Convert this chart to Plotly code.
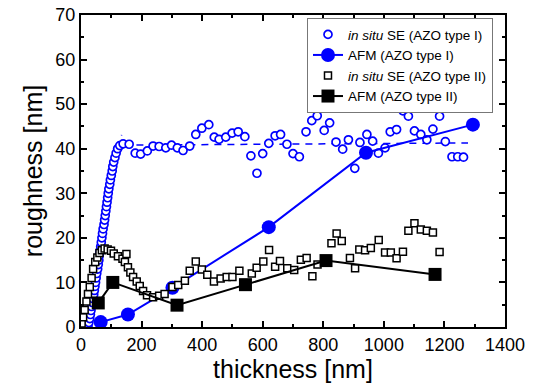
import plotly.graph_objects as go

# ---------------- data ----------------
# in situ SE (AZO type I)
se1_x = [23, 26, 29, 31, 33, 35, 37, 39, 42, 44, 46, 48, 50, 52, 55, 57, 59, 60, 63, 65,
         67, 69, 71, 73, 76, 78, 80, 82, 84, 86, 88, 90, 92, 95, 97, 100, 103, 105, 108, 112,
         116, 121, 128, 139,
         159, 179, 197, 219, 238, 258, 280, 299, 318, 337, 359, 379, 399, 422, 440, 456, 478,
         499, 519, 541, 561, 581, 600, 620, 641, 659, 680, 700, 721, 743, 762, 780, 803, 821,
         842, 864, 883, 904, 921, 944, 963, 982, 1004, 1021, 1042, 1063, 1081, 1101, 1122,
         1142, 1162, 1184, 1203, 1225, 1244, 1263]
se1_y = [0.2, 1.0, 1.9, 2.8, 3.7, 4.6, 5.5, 6.4, 7.3, 8.2, 9.1, 10.0, 11.0, 12.0, 13.0, 14.0,
         15.0, 16.0, 17.0, 18.0, 19.0, 20.0, 21.0, 22.0, 23.0, 24.0, 25.0, 26.0, 27.0, 28.0,
         29.0, 30.0, 31.0, 32.0, 33.0, 34.0, 35.0, 36.0, 37.0, 38.0, 39.0, 40.0, 40.7, 41.1,
         41.0, 39.0, 38.8, 39.5, 40.6, 40.5, 40.2, 40.8, 40.2, 39.6, 40.6, 43.2, 44.6, 45.4,
         42.6, 42.1, 42.6, 43.5, 43.8, 42.7, 38.4, 34.5, 38.9, 41.2, 42.9, 43.2, 41.0, 38.9,
         38.2, 43.8, 46.3, 47.4, 44.1, 45.8, 41.5, 39.9, 42.0, 35.6, 41.4, 43.2, 41.7, 39.0,
         40.2, 43.8, 44.3, 48.5, 47.3, 44.0, 43.2, 42.0, 44.4, 47.3, 41.6, 38.2, 38.2, 38.1]

# AFM (AZO type I)
afm1_x = [65, 155, 302, 620, 941, 1294]
afm1_y = [1.1, 2.8, 8.8, 22.4, 39.1, 45.4]

# in situ SE (AZO type II)
se2_x = [2, 7, 12, 18, 23, 29, 35, 40, 47, 54, 61, 69, 78, 88, 99, 108, 122, 137, 150, 145,
         155, 163, 172, 184, 194, 205, 218, 238, 258, 276, 302, 321, 343, 359, 379, 399, 417,
         439, 461, 481, 500, 523, 564, 580, 602, 621, 641, 657, 681, 704, 726, 745, 764, 781,
         827, 844, 861, 888, 905, 919, 938, 957, 983, 1004, 1023, 1042, 1063, 1081, 1101,
         1122, 1142, 1162, 1184]
se2_y = [0.8, 2.2, 3.8, 5.7, 7.4, 9.0, 11.0, 13.0, 14.6, 15.6, 16.6, 17.2, 17.6, 17.4, 17.1,
         16.5, 15.9, 15.3, 16.4, 14.6, 13.4, 12.2, 11.2, 10.2, 9.2, 8.1, 7.1, 6.7, 7.0, 7.4,
         9.0, 9.4, 10.4, 12.6, 14.7, 12.9, 11.7, 10.2, 10.9, 11.2, 11.2, 12.6, 12.0, 13.3,
         14.7, 17.3, 13.5, 14.8, 13.2, 12.8, 15.1, 15.5, 11.4, 14.0, 18.8, 21.0, 19.3, 15.5,
         13.2, 17.4, 17.2, 17.7, 19.5, 16.7, 16.7, 15.4, 16.9, 21.6, 23.3, 21.9, 21.6, 21.2,
         16.8]

# AFM (AZO type II)
afm2_x = [57, 105, 317, 543, 809, 1169]
afm2_y = [5.4, 10.0, 4.9, 9.5, 14.9, 11.8]

# fit guide lines for type I (rise and saturation)
fit_x = [12, 134, None, 140, 1278]
fit_y = [0.0, 43.1, None, 40.8, 41.3]

x_ticks = [0, 200, 400, 600, 800, 1000, 1200, 1400]
y_ticks = [0, 10, 20, 30, 40, 50, 60, 70]

BLUE = "#0000ff"
FONT = "Liberation Sans, Arial, sans-serif"

fig = go.Figure()

fig.add_trace(go.Scatter(
    x=fit_x, y=fit_y, mode="lines", showlegend=False, hoverinfo="skip",
    line=dict(color=BLUE, width=1.5, dash="7px,6px")))

fig.add_trace(go.Scatter(
    x=se1_x, y=se1_y, mode="markers", name="<i>in situ</i> SE (AZO type I)",
    marker=dict(symbol="circle", size=8, color="white",
                line=dict(color=BLUE, width=1.7))))

fig.add_trace(go.Scatter(
    x=afm1_x, y=afm1_y, mode="lines+markers", name="AFM (AZO type I)",
    line=dict(color=BLUE, width=2),
    marker=dict(symbol="circle", size=14, color=BLUE)))

fig.add_trace(go.Scatter(
    x=se2_x, y=se2_y, mode="markers", name="<i>in situ</i> SE (AZO type II)",
    marker=dict(symbol="square", size=7, color="white",
                line=dict(color="black", width=1.5))))

fig.add_trace(go.Scatter(
    x=afm2_x, y=afm2_y, mode="lines+markers", name="AFM (AZO type II)",
    line=dict(color="black", width=2),
    marker=dict(symbol="square", size=13, color="black")))

axis_common = dict(
    showline=True, linecolor="black", linewidth=2, mirror="allticks",
    ticks="inside", ticklen=6, tickwidth=1.5, tickcolor="black",
    showgrid=False, zeroline=False,
    tickfont=dict(family=FONT, size=18, color="black"),
)

fig.update_xaxes(
    range=[0, 1400], tickvals=x_ticks, ticktext=[str(v) for v in x_ticks],
    minor=dict(ticks="inside", dtick=100, tick0=0, ticklen=3, tickwidth=1.5, tickcolor="black"),
    title=dict(text="thickness [nm]", font=dict(family=FONT, size=25, color="black"), standoff=2),
    **axis_common)
fig.update_yaxes(
    range=[0, 70], tickvals=y_ticks, ticktext=[str(v) for v in y_ticks],
    minor=dict(ticks="inside", dtick=5, tick0=0, ticklen=3, tickwidth=1.5, tickcolor="black"),
    title=dict(text="roughness [nm]", font=dict(family=FONT, size=25, color="black"), standoff=6),
    **axis_common)

fig.update_layout(
    width=536, height=387,
    margin=dict(l=81, r=31, t=15, b=60, autoexpand=False),
    paper_bgcolor="white", plot_bgcolor="white",
    font=dict(family=FONT, color="black"),
    legend=dict(x=0.533, y=0.99, xanchor="left", yanchor="top",
                bgcolor="white", bordercolor="#777777", borderwidth=1,
                font=dict(family=FONT, size=13.5, color="black"),
                tracegroupgap=0, itemwidth=30),
)

fig.write_html("out.html")
